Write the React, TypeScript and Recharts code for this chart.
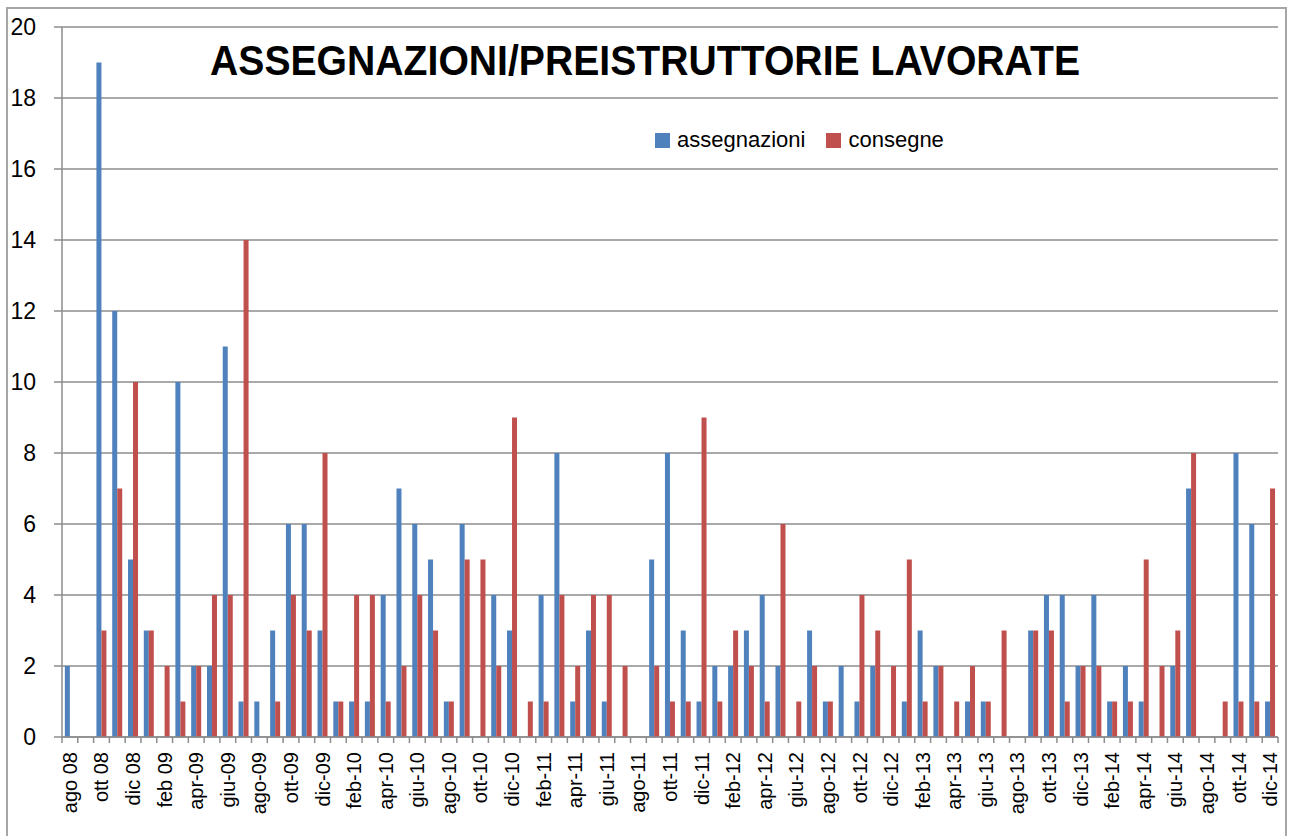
import React from "react";
import { BarChart, Bar, XAxis, YAxis, CartesianGrid, Legend } from "recharts";

const months = [
  "ago 08", "set 08", "ott 08", "nov 08", "dic 08",
  "gen 09", "feb 09", "mar 09", "apr-09", "mag-09", "giu-09", "lug-09", "ago-09", "set-09", "ott-09", "nov-09", "dic-09",
  "gen-10", "feb-10", "mar-10", "apr-10", "mag-10", "giu-10", "lug-10", "ago-10", "set-10", "ott-10", "nov-10", "dic-10",
  "gen-11", "feb-11", "mar-11", "apr-11", "mag-11", "giu-11", "lug-11", "ago-11", "set-11", "ott-11", "nov-11", "dic-11",
  "gen-12", "feb-12", "mar-12", "apr-12", "mag-12", "giu-12", "lug-12", "ago-12", "set-12", "ott-12", "nov-12", "dic-12",
  "gen-13", "feb-13", "mar-13", "apr-13", "mag-13", "giu-13", "lug-13", "ago-13", "set-13", "ott-13", "nov-13", "dic-13",
  "gen-14", "feb-14", "mar-14", "apr-14", "mag-14", "giu-14", "lug-14", "ago-14", "set-14", "ott-14", "nov-14", "dic-14",
];

const assegnazioni = [
  2, 0, 19, 12, 5,
  3, 0, 10, 2, 2, 11, 1, 1, 3, 6, 6, 3,
  1, 1, 1, 4, 7, 6, 5, 1, 6, 0, 4, 3,
  0, 4, 8, 1, 3, 1, 0, 0, 5, 8, 3, 1,
  2, 2, 3, 4, 2, 0, 3, 1, 2, 1, 2, 0,
  1, 3, 2, 0, 1, 1, 0, 0, 3, 4, 4, 2,
  4, 1, 2, 1, 0, 2, 7, 0, 0, 8, 6, 1,
];

const consegne = [
  0, 0, 3, 7, 10,
  3, 2, 1, 2, 4, 4, 14, 0, 1, 4, 3, 8,
  1, 4, 4, 1, 2, 4, 3, 1, 5, 5, 2, 9,
  1, 1, 4, 2, 4, 4, 2, 0, 2, 1, 1, 9,
  1, 3, 2, 1, 6, 1, 2, 1, 0, 4, 3, 2,
  5, 1, 2, 1, 2, 1, 3, 0, 3, 3, 1, 2,
  2, 1, 1, 5, 2, 3, 8, 0, 1, 1, 1, 7,
];

const yTicks = [0, 2, 4, 6, 8, 10, 12, 14, 16, 18, 20];

const data = months.map((m, i) => ({
  mese: m,
  assegnazioni: assegnazioni[i],
  consegne: consegne[i],
}));

const W = 1289;
const H = 836;
const LEFT = 62;
const RIGHT = 11;
const STEP = (W - LEFT - RIGHT) / months.length;
const GRAY = "#8c8c8c";
const FONT = "'Liberation Sans', Arial, sans-serif";

// excel-style tick marks sit between categories, labels on every other month
function MonthTick(props: any) {
  const { x, y, payload, index } = props;
  const ty = y + 15;
  return (
    <g>
      <line x1={x - STEP / 2} y1={y} x2={x - STEP / 2} y2={y + 6} stroke={GRAY} strokeWidth={1.5} />
      {index === months.length - 1 && (
        <line x1={x + STEP / 2} y1={y} x2={x + STEP / 2} y2={y + 6} stroke={GRAY} strokeWidth={1.5} />
      )}
      {index % 2 === 0 && (
        <text
          x={x}
          y={ty}
          dy="0.35em"
          textAnchor="end"
          transform={`rotate(-90, ${x}, ${ty})`}
          fontSize={20}
          fontFamily={FONT}
          fill="#000"
        >
          {payload.value}
        </text>
      )}
    </g>
  );
}

function LegendBox(props: any) {
  const items = props.payload || [];
  return (
    <div style={{ display: "flex", alignItems: "center", fontFamily: FONT, fontSize: 22, color: "#000" }}>
      {items.map((it: any) => (
        <div key={it.value} style={{ display: "flex", alignItems: "center", marginRight: 21 }}>
          <span style={{ width: 15, height: 15, background: it.color, display: "inline-block", marginRight: 7 }} />
          <span>{it.value}</span>
        </div>
      ))}
    </div>
  );
}

export default function App() {
  return (
    <div style={{ position: "absolute", left: 0, top: 0, width: W, height: H, overflow: "hidden", background: "#fff" }}>
      <div
        style={{
          position: "absolute",
          left: 6,
          top: 7,
          width: 1281,
          height: 900,
          border: "2px solid #a6a6a6",
          boxSizing: "border-box",
        }}
      />
      <div style={{ position: "absolute", left: 0, top: 0 }}>
        <BarChart
          width={W}
          height={H}
          data={data}
          margin={{ top: 27, right: RIGHT, left: 0, bottom: 0 }}
          barCategoryGap="18%"
          barGap={0}
        >
          <CartesianGrid vertical={false} stroke={GRAY} strokeWidth={1.5} />
          <XAxis
            dataKey="mese"
            height={H - 737}
            interval={0}
            tickSize={0}
            tickMargin={0}
            tickLine={false}
            axisLine={{ stroke: GRAY, strokeWidth: 1.5 }}
            tick={<MonthTick />}
          />
          <YAxis
            width={LEFT}
            domain={[0, 20]}
            ticks={yTicks}
            interval={0}
            tickSize={8}
            tickMargin={18}
            axisLine={{ stroke: GRAY, strokeWidth: 1.5 }}
            tickLine={{ stroke: GRAY, strokeWidth: 1.5 }}
            tick={{ fontSize: 23, fill: "#000", fontFamily: FONT }}
          />
          <Legend
            layout="horizontal"
            verticalAlign="middle"
            align="center"
            content={<LegendBox />}
            wrapperStyle={{ top: 127, left: 655, width: "auto" }}
          />
          <Bar dataKey="assegnazioni" fill="#4F81BD" isAnimationActive={false} />
          <Bar dataKey="consegne" fill="#C0504D" isAnimationActive={false} />
        </BarChart>
      </div>
      <svg
        width={W}
        height={100}
        style={{ position: "absolute", left: 0, top: 0, pointerEvents: "none" }}
      >
        <text
          x={210}
          y={75}
          textLength={870}
          lengthAdjust="spacingAndGlyphs"
          fontFamily={FONT}
          fontWeight="bold"
          fontSize={42}
          fill="#000"
        >
          ASSEGNAZIONI/PREISTRUTTORIE LAVORATE
        </text>
      </svg>
    </div>
  );
}
